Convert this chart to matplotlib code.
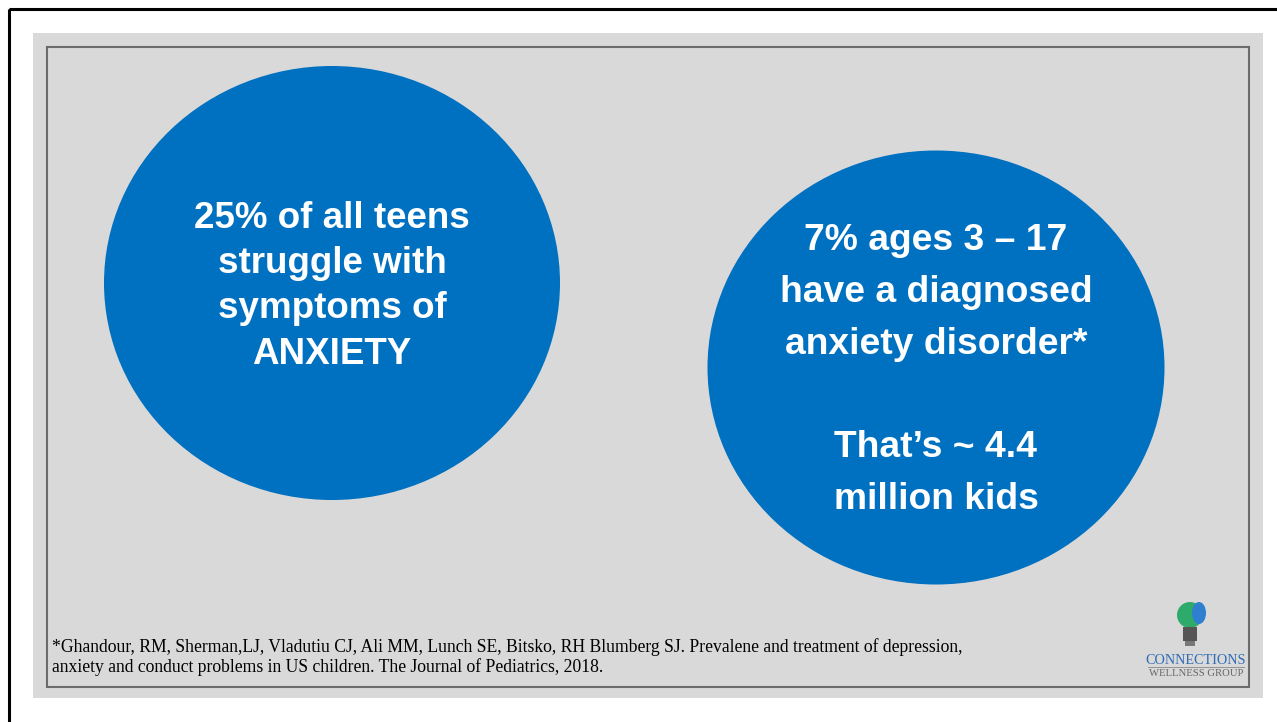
import matplotlib
matplotlib.use("Agg")
import matplotlib.pyplot as plt
from matplotlib.patches import Ellipse, Rectangle, Circle

# ---- content ----
left_lines = ["25% of all teens", "struggle with", "symptoms of", "ANXIETY"]
right_lines = ["7% ages 3 \u2013 17", "have a diagnosed", "anxiety disorder*", "", "That\u2019s ~ 4.4", "million kids"]
footnote_lines = [
    "*Ghandour, RM, Sherman,LJ, Vladutiu CJ, Ali MM, Lunch SE, Bitsko, RH Blumberg SJ. Prevalene and treatment of depression,",
    "anxiety and conduct problems in US children. The Journal of Pediatrics, 2018.",
]
logo_main = "CONNECTIONS"
logo_sub = "WELLNESS GROUP"

BLUE = "#0070C0"
GRAY = "#D9D9D9"

W, H = 1277, 722
fig = plt.figure(figsize=(W / 100, H / 100), dpi=100)
ax = fig.add_axes([0, 0, 1, 1])
ax.set_xlim(0, W)
ax.set_ylim(H, 0)
ax.axis("off")

# outer black border
ax.add_patch(Rectangle((9, 9), 1300, 760, fill=False, edgecolor="black", lw=2.2))
# gray panel
ax.add_patch(Rectangle((33, 33), 1230, 665, facecolor=GRAY, edgecolor="none"))
# inner frame
ax.add_patch(Rectangle((47, 47), 1202, 640, fill=False, edgecolor="#6b6b6b", lw=1.5))

# circles
ax.add_patch(Ellipse((332, 283), 456, 434, facecolor=BLUE, edgecolor="none"))
ax.add_patch(Ellipse((936, 367.5), 457, 434, facecolor=BLUE, edgecolor="none"))

fs_left = 26.5
for i, t in enumerate(left_lines):
    ax.text(332, 218 + i * 45.5, t, ha="center", va="center", color="white",
            fontsize=fs_left, fontweight="bold", family="Liberation Sans")

fs_right = 26.8
for i, t in enumerate(right_lines):
    if t:
        ax.text(936, 240.5 + i * 51.8, t, ha="center", va="center", color="white",
                fontsize=fs_right, fontweight="bold", family="Liberation Sans")

for i, t in enumerate(footnote_lines):
    ax.text(52, 647 + i * 20, t, ha="left", va="center", color="black",
            fontsize=12.7, family="Liberation Serif")

# logo (approximate)
ax.add_patch(Circle((1190, 615), 13, facecolor="#2eaa6a", edgecolor="none"))
ax.add_patch(Ellipse((1199, 613), 14, 22, facecolor="#2f7fd0", edgecolor="none"))
ax.add_patch(Rectangle((1183, 627), 14, 14, facecolor="#555555", edgecolor="none"))
ax.add_patch(Rectangle((1185, 641), 10, 5, facecolor="#777777", edgecolor="none"))
ax.text(1196, 660, logo_main, ha="center", va="center", color="#2f6db5",
        fontsize=10.2, family="Liberation Serif")
ax.plot([1148, 1244], [667, 667], color="#888888", lw=0.6)
ax.text(1196, 674, logo_sub, ha="center", va="center", color="#666666",
        fontsize=7.7, family="Liberation Serif")

fig.savefig("out.png", dpi=100, facecolor="white")
